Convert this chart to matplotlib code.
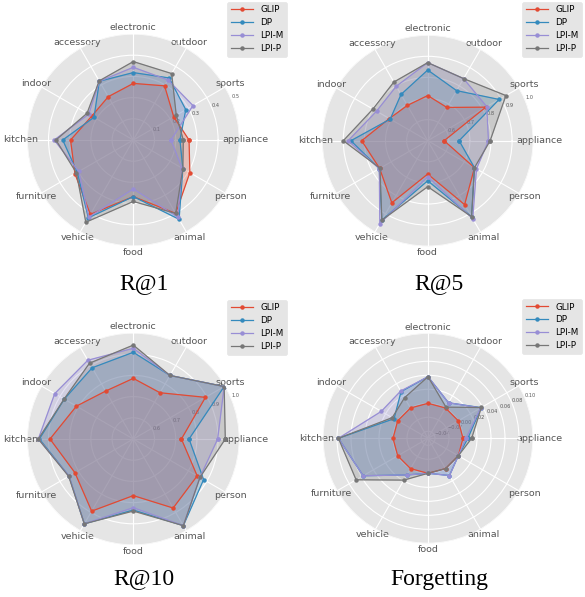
import numpy as np
import matplotlib
matplotlib.use('Agg')
import matplotlib.pyplot as plt

plt.style.use('ggplot')

categories = ['appliance', 'sports', 'outdoor', 'electronic', 'accessory', 'indoor',
              'kitchen', 'furniture', 'vehicle', 'food', 'animal', 'person']
methods = ['GLIP', 'DP', 'LPI-M', 'LPI-P']
colors = ['#E24A33', '#348ABD', '#988ED5', '#777777']

# R@1
r1_glip = [0.263, 0.220, 0.295, 0.267, 0.236, 0.226, 0.296, 0.318, 0.405, 0.267, 0.400, 0.308]
r1_dp   = [0.220, 0.286, 0.338, 0.318, 0.320, 0.214, 0.333, 0.305, 0.424, 0.267, 0.432, 0.270]
r1_lpim = [0.178, 0.325, 0.327, 0.343, 0.320, 0.243, 0.373, 0.297, 0.420, 0.231, 0.420, 0.265]
r1_lpip = [0.236, 0.234, 0.362, 0.370, 0.322, 0.252, 0.365, 0.310, 0.448, 0.290, 0.400, 0.270]

# R@5
r5_glip = [0.578, 0.818, 0.682, 0.714, 0.693, 0.710, 0.813, 0.763, 0.840, 0.658, 0.850, 0.756]
r5_dp   = [0.649, 0.891, 0.774, 0.835, 0.753, 0.705, 0.864, 0.765, 0.935, 0.690, 0.916, 0.756]
r5_lpim = [0.788, 0.823, 0.840, 0.870, 0.798, 0.780, 0.877, 0.765, 0.954, 0.671, 0.927, 0.767]
r5_lpip = [0.796, 0.928, 0.840, 0.870, 0.821, 0.800, 0.900, 0.761, 0.935, 0.718, 0.916, 0.756]

# R@10
r10_glip = [0.727, 0.893, 0.752, 0.786, 0.761, 0.810, 0.893, 0.818, 0.893, 0.767, 0.876, 0.848]
r10_dp   = [0.763, 0.995, 0.846, 0.909, 0.888, 0.876, 0.943, 0.850, 0.962, 0.835, 0.972, 0.883]
r10_lpim = [0.898, 0.995, 0.846, 0.928, 0.929, 0.928, 0.948, 0.850, 0.962, 0.824, 0.972, 0.863]
r10_lpip = [0.934, 0.995, 0.846, 0.943, 0.913, 0.877, 0.948, 0.852, 0.962, 0.840, 0.972, 0.863]

# Forgetting
fg_glip = [0.0, 0.0, 0.0, 0.0, 0.0, 0.0, 0.0, 0.0, 0.0, 0.0, 0.0, 0.0]
fg_dp   = [0.0070, 0.0376, 0.0086, 0.0380, 0.0270, 0.0060, 0.0780, 0.0570, 0.0105, 0.0, 0.0114, 0.0]
fg_lpim = [0.0043, 0.0370, 0.0086, 0.0380, 0.0280, 0.0270, 0.0780, 0.0570, 0.0105, 0.0, 0.0114, 0.0]
fg_lpip = [0.0124, 0.0380, 0.0014, 0.0380, 0.0170, 0.0090, 0.0780, 0.0686, 0.0190, 0.0, 0.0, 0.0]

titles = ['R@1', 'R@5', 'R@10', 'Forgetting']
series = [[r1_glip, r1_dp, r1_lpim, r1_lpip],
          [r5_glip, r5_dp, r5_lpim, r5_lpip],
          [r10_glip, r10_dp, r10_lpim, r10_lpip],
          [fg_glip, fg_dp, fg_lpim, fg_lpip]]
rlims = [(0.0, 0.5), (0.5, 1.0), (0.5, 1.0), (-0.05, 0.10)]
rticks = [[0.1, 0.2, 0.3, 0.4, 0.5],
          [0.6, 0.7, 0.8, 0.9, 1.0],
          [0.6, 0.7, 0.8, 0.9, 1.0],
          [-0.04, -0.02, 0.00, 0.02, 0.04, 0.06, 0.08, 0.10]]
rticklabels = [['0.1', '0.2', '0.3', '0.4', '0.5'],
               ['0.6', '0.7', '0.8', '0.9', '1.0'],
               ['0.6', '0.7', '0.8', '0.9', '1.0'],
               ['\u22120.04', '\u22120.02', '0.00', '0.02', '0.04', '0.06', '0.08', '0.10']]

W, H = 585, 597
fig = plt.figure(figsize=(W / 100, H / 100), dpi=100)
fig.patch.set_facecolor('white')

# layout in pixels: (center x, center y, radius), legend (right, top), title center (x, y)
centers = [(133.3, 140.0, 106.0), (427.7, 140.7, 105.5), (133.3, 439.0, 106.0), (428.0, 438.3, 105.0)]
legend_pos = [(287, 2), (582, 2), (287, 300), (582, 299)]
title_pos = [(144, 284), (439, 284), (144, 579), (439, 579)]

N = len(categories)
angles = np.linspace(0, 2 * np.pi, N, endpoint=False)
closed_angles = np.concatenate([angles, angles[:1]])

for i in range(4):
    cx, cy, R = centers[i]
    ax = fig.add_axes([(cx - R) / W, 1 - (cy + R) / H, 2 * R / W, 2 * R / H], projection='polar')
    ax.set_facecolor('#E5E5E5')
    for vals, name, c in zip(series[i], methods, colors):
        v = np.concatenate([vals, vals[:1]])
        ax.plot(closed_angles, v, color=c, lw=0.9, marker='o', ms=2.2, label=name)
        ax.fill(closed_angles, v, color=c, alpha=0.25)
    ax.set_ylim(*rlims[i])
    ax.set_thetagrids(np.degrees(angles), categories)
    ax.set_rticks(rticks[i])
    ax.set_yticklabels(rticklabels[i])
    ax.set_rlabel_position(22.5)
    ax.tick_params(axis='x', labelsize=6.8, colors='#555555', pad=-2.5, size=0)
    ax.tick_params(axis='y', labelsize=3.6, colors='#555555')
    ax.grid(True, color='white', lw=0.8)
    ax.spines['polar'].set_visible(False)
    lx, ly = legend_pos[i]
    leg = ax.legend(loc='upper right', bbox_to_anchor=(lx / W, 1 - ly / H),
                    bbox_transform=fig.transFigure, borderaxespad=0,
                    fontsize=6.3, handlelength=2.6, labelspacing=0.45,
                    facecolor='#E5E5E5', edgecolor='#E5E5E5', framealpha=1)
    tx, ty = title_pos[i]
    fig.text(tx / W, 1 - ty / H, titles[i], ha='center', va='center',
             fontsize=17, family='Liberation Serif', color='black')

fig.savefig('out.png', dpi=100, facecolor='white')
